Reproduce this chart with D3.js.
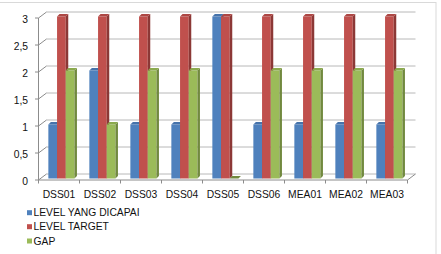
<!DOCTYPE html>
<html><head><meta charset="utf-8">
<script src="https://cdn.jsdelivr.net/npm/d3@7"></script>
<style>html,body{margin:0;padding:0;background:#fff;}svg{display:block;font-family:"Liberation Sans",Arial,sans-serif;}</style>
</head><body>
<script>
const categories = ["DSS01","DSS02","DSS03","DSS04","DSS05","DSS06","MEA01","MEA02","MEA03"];
const seriesNames = ["LEVEL YANG DICAPAI","LEVEL TARGET","GAP"];
const levelDicapai = [1,2,1,1,3,1,1,1,1];
const levelTarget  = [3,3,3,3,3,3,3,3,3];
const gap          = [2,1,2,2,0,2,2,2,2];
const yTicks = [0,0.5,1,1.5,2,2.5,3];
const yTickLabels = ["0","0,5","1","1,5","2","2,5","3"];

const seriesValues = [levelDicapai, levelTarget, gap];
const front = ["#4F81BD","#C0504D","#9BBB59"];
const side  = ["#385D8A","#8C3836","#71893F"];
const top_  = ["#4673AB","#AD4744","#8BAA4E"];

const W=441,H=254;
const svg=d3.select("body").append("svg").attr("width",W).attr("height",H);

// chart border
svg.append("rect").attr("x",-1).attr("y",2.5).attr("width",437).attr("height",260)
  .attr("fill","none").attr("stroke","#d9d9d9");

const x0=38.5,x1=407.5;
const DX=8,DY=-6;
const x=d3.scaleBand().domain(categories).range([x0,x1]);
const y=d3.scaleLinear().domain([0,3]).range([180,18]);

const grid="#b8b8b8", axis="#8c8c8c";
yTicks.forEach(t=>{
  const yf=y(t);
  svg.append("line").attr("x1",x0+DX).attr("x2",x1+DX).attr("y1",yf+DY).attr("y2",yf+DY).attr("stroke",grid);
  svg.append("line").attr("x1",x0).attr("x2",x0+DX).attr("y1",yf).attr("y2",yf+DY).attr("stroke",axis);
  svg.append("line").attr("x1",x0-3.5).attr("x2",x0).attr("y1",yf).attr("y2",yf).attr("stroke",axis);
});
svg.append("line").attr("x1",x0).attr("x2",x0).attr("y1",y(3)).attr("y2",y(0)).attr("stroke",axis);
svg.append("line").attr("x1",x0).attr("x2",x1).attr("y1",y(0)).attr("y2",y(0)).attr("stroke",axis);
svg.append("line").attr("x1",x1).attr("x2",x1+DX).attr("y1",y(0)).attr("y2",y(0)+DY).attr("stroke",axis);
d3.range(categories.length+1).forEach(i=>{
  const xt=x0+i*x.step();
  svg.append("line").attr("x1",xt).attr("x2",xt).attr("y1",y(0)).attr("y2",y(0)+3.5).attr("stroke",axis);
});

yTicks.forEach((t,i)=>{
  svg.append("text").attr("x",28).attr("y",y(t)+1).attr("dy","0.35em").attr("text-anchor","end")
    .attr("font-size",10.3).attr("fill","#111").text(yTickLabels[i]);
});
categories.forEach(c=>{
  svg.append("text").attr("x",x(c)+x.bandwidth()/2).attr("y",198).attr("text-anchor","middle")
    .attr("font-size",10.3).attr("fill","#111").text(c);
});

const bw=8.7;
const fx=2.4, fy=-1.5;
const bdx=2.5, bdy=-2.4;
const g=svg.append("g");
categories.forEach((c,ci)=>{
  const cx=x(c)+x.bandwidth()/2+fx;
  const gx=cx-1.5*bw;
  seriesValues.forEach((vals,si)=>{
    const v=vals[ci];
    const xl=gx+si*bw, xr=xl+bw;
    const yb=y(0)+fy, yt=y(v)+fy;
    if(v>0){
      g.append("rect").attr("x",xl).attr("y",yt).attr("width",bw).attr("height",yb-yt).attr("fill",front[si]);
      g.append("path").attr("d",`M${xr},${yt}L${xr+bdx},${yt+bdy}L${xr+bdx},${yb+bdy}L${xr},${yb}Z`).attr("fill",side[si]);
    }
    g.append("path").attr("d",`M${xl},${yt}L${xl+bdx},${yt+bdy}L${xr+bdx},${yt+bdy}L${xr},${yt}Z`).attr("fill",v>0?top_[si]:side[si]);
  });
});

const ly=[212.7,226.7,241];
seriesNames.forEach((n,i)=>{
  svg.append("rect").attr("x",27).attr("y",ly[i]-2.5).attr("width",5).attr("height",5).attr("fill",front[i]);
  svg.append("text").attr("x",33.5).attr("y",ly[i]).attr("dy","0.35em").attr("font-size",10.3).attr("fill","#111").text(n);
});
</script>
</body></html>
